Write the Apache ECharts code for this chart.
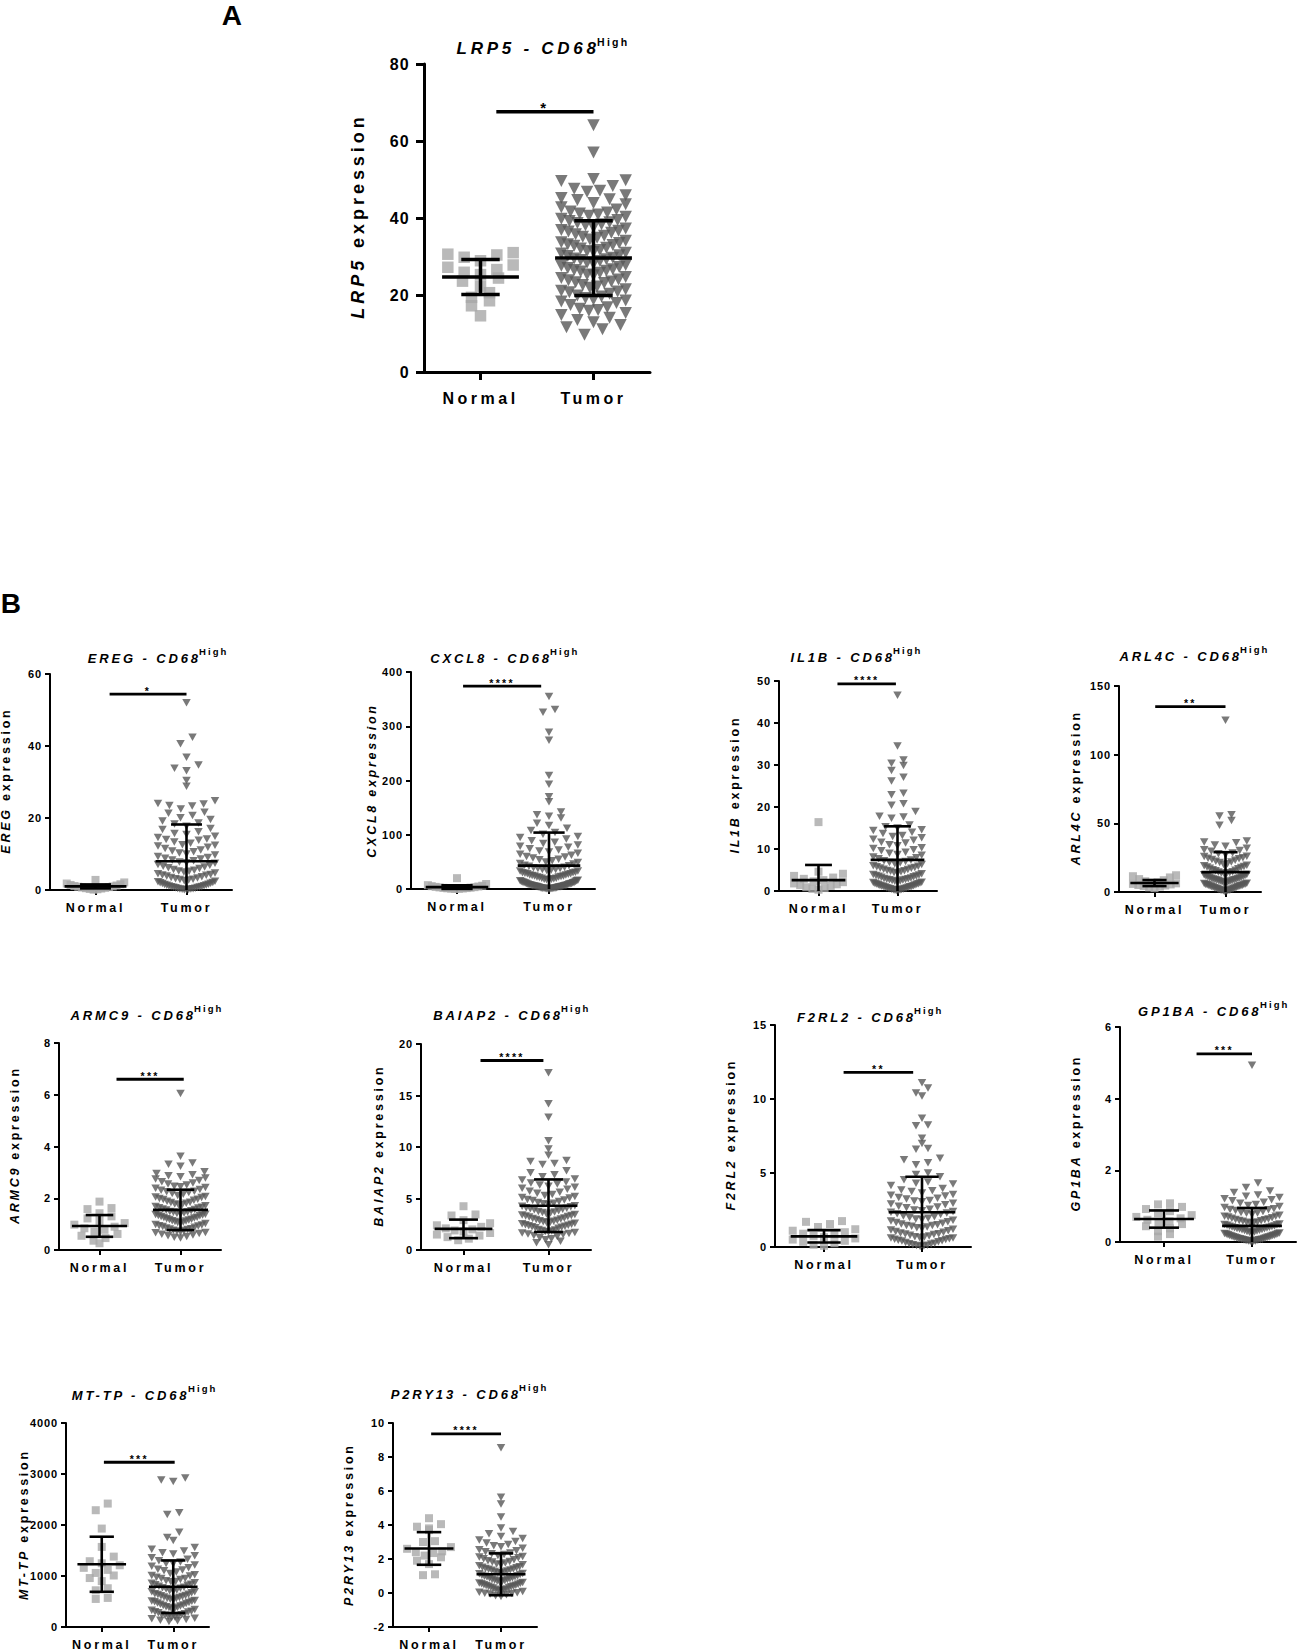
<!DOCTYPE html>
<html><head><meta charset="utf-8">
<script src="https://cdn.jsdelivr.net/npm/echarts@6/dist/echarts.min.js"></script>
<style>
html,body{margin:0;padding:0;background:#fff;}
#c{width:1299px;height:1651px;}
#c text{letter-spacing:0.22em;}
#c text[text-anchor="end"]{letter-spacing:0.08em;}
</style></head><body><div id="c"></div>
<script>
const categories = ['Normal', 'Tumor'];
const genes = ['LRP5','EREG','CXCL8','IL1B','ARL4C','ARMC9','BAIAP2','F2RL2','GP1BA','MT-TP','P2RY13'];
const stars = ['*','*','****','****','**','***','****','**','***','***','****'];
const yMin = [0,0,0,0,0,0,0,0,0,0,-2];
const yMax = [80,60,400,50,150,8,20,15,6,4000,10];
const yStep = [20,20,100,10,50,2,5,5,2,1000,2];
const sigLevel = [67.6,54.4,374,49.3,135,6.6,18.4,11.8,5.25,3230,9.36];
const normalMean = [24.7,1.0,3.5,2.6,6.5,0.93,2.05,0.72,0.64,1230,2.62];
const normalSd = [4.55,0.55,3.3,3.6,2.2,0.42,0.9,0.42,0.24,540,0.96];
const tumorMean = [29.6,8.0,43,7.4,14.5,1.55,4.3,2.35,0.45,790,1.1];
const tumorSd = [9.7,10.2,61,8.0,14.5,0.78,2.55,2.4,0.5,515,1.23];

const lrp5Normal = [31.0,30.6,30.4,29.8,28.9,27.8,27.2,26.6,25.9,25.3,24.4,23.6,22.3,20.6,19.4,18.5,17.2,14.6];
const lrp5Tumor = [64.1,57.0,50.1,49.6,49.8,48.3,47.1,47.6,46.8,45.9,45.2,44.7,44.9,43.6,43.9,42.8,42.2,
41.7,41.2,40.9,40.3,40.6,39.8,39.5,39.2,38.7,38.4,38.1,37.6,37.3,36.9,36.5,36.2,35.8,35.4,35.1,
34.9,34.4,34.1,33.7,33.5,33.0,32.8,32.3,32.1,31.7,31.4,31.0,30.8,30.3,30.1,29.7,29.5,29.1,28.8,28.4,28.1,
27.8,27.3,27.0,26.7,26.5,26.1,25.8,25.3,25.1,24.7,24.4,24.0,23.8,23.3,23.1,22.6,22.2,21.9,21.5,
21.1,20.7,20.3,19.9,19.6,19.2,18.8,18.3,17.9,17.4,16.8,16.4,15.9,15.3,14.8,14.1,13.5,12.9,12.2,11.6,11.1,9.7,
36.7,33.2,29.3,26.3,23.5,20.9,18.6,16.1,41.4,38.9,31.2,27.6];

const eregNormal = [2.8,2.1,1.8,1.6,1.4,1.25,1.1,1.0,0.9,0.8,0.7,0.6,0.5,0.4,0.3,0.2,0.1];
const eregTumor = [52.0,42.4,40.6,36.9,34.7,33.8,33.1,30.4,28.8,24.8,24.0,23.9,23.5,23.3,22.5,21.6,21.3,20.7,20.1,
19.6,19.2,18.6,18.3,17.7,17.1,16.8,16.2,15.7,15.4,14.9,14.6,14.2,13.8,13.3,13.0,12.6,12.2,11.9,11.5,
11.1,10.8,10.3,10.0,9.7,9.3,9.0,8.6,8.3,8.1,7.8,7.4,7.1,6.9,6.6,6.2,6.0,5.7,5.5,5.2,
5.0,4.7,4.5,4.3,4.1,3.9,3.7,3.5,3.3,3.1,2.9,2.8,2.6,2.4,2.3,2.1,1.9,1.8,1.6,1.5,
1.4,1.2,1.1,1.0,0.9,0.8,0.7,0.6,0.5,0.4,0.35,0.3,0.2,0.15,0.1,0.05,
14.0,12.4,10.6,8.8,7.6,6.4,5.3,4.2,3.0,2.0,1.3,0.75,0.25];

const cxcl8Normal = [20.0,9.2,7.1,6.0,5.2,4.6,3.9,3.4,2.9,2.5,2.1,1.7,1.3,1.0,0.7,0.4,0.2];
const cxcl8Tumor = [355,331,326,289,274,209,193,170,161,142,137,134,131,
121,117,112,108,104,101,97,95,92,89,86,84,81,79,77,74,72,70,68,66,64,62,60,59,57,55,54,
52,50,49,47,46,44,43,42,40,39,38,36,35,34,33,31,30,29,28,27,26,25,24,23,22,21,20,19,
18,17,16,15,14,13,12,11.5,11,10,9.5,9,8,7.5,7,6.5,6,5.5,5,4.5,4,3.5,3,2.5,2,1.6,1.2,0.8,0.5,0.3,
38,36,33,30,28,26,24,22,20,18,17,15,14,12,10,9,8,7,6,5,4.5,4,3,2.5,2,1.5,1,0.7,0.4,0.2];

const il1bNormal = [16.4,4.6,4.1,3.6,3.2,2.9,2.6,2.3,2.1,1.8,1.6,1.4,1.2,0.9,0.7,0.5,0.3];
const il1bTumor = [46.6,34.5,31.2,30.4,29.9,28.7,27.1,26.2,23.3,22.9,20.8,20.4,18.9,17.8,17.6,17.3,
15.7,15.3,15.0,14.6,14.4,14.0,13.7,13.2,13.0,12.7,12.3,12.1,11.6,11.4,11.0,10.8,
10.3,10.1,9.8,9.6,9.2,9.0,8.7,8.5,8.1,7.9,7.7,7.4,7.2,7.0,6.7,6.5,
6.3,6.0,5.9,5.6,5.5,5.2,5.1,4.8,4.7,4.4,4.3,4.1,3.9,3.8,3.6,3.4,
3.3,3.1,2.9,2.8,2.7,2.5,2.4,2.2,2.1,2.0,1.8,1.7,1.6,1.5,1.3,1.2,
1.1,1.0,0.9,0.8,0.7,0.6,0.5,0.4,0.3,0.2,0.1,6.8,5.4,4.6,3.7,3.0,2.6,1.9,1.4,0.95,0.55,0.25,0.15,
4.9,3.5,2.3,1.65,1.05,0.65,0.35,5.8,2.75,1.25];

const arl4cNormal = [12.2,11.5,10.6,9.4,8.6,7.8,7.2,6.8,6.3,5.9,5.5,5.1,4.7,4.3,3.9,3.4,2.8];
const arl4cTumor = [125,56.2,55.4,52.1,48.6,37.1,36.4,35.9,34.2,33.4,31.9,30.8,
30.2,29.6,28.4,27.9,27.2,26.1,25.8,24.9,24.6,23.7,23.1,22.3,21.9,21.4,20.6,20.1,19.4,19.1,18.5,17.8,17.3,16.9,16.2,15.8,
15.4,14.8,14.5,14.0,13.6,13.2,12.8,12.5,12.0,11.7,11.2,10.9,10.6,10.2,9.9,9.5,9.3,8.9,8.6,8.3,8.0,7.6,7.4,7.0,6.8,6.4,
6.1,5.9,5.5,5.2,4.9,4.6,4.3,4.0,3.7,3.4,3.1,2.8,2.5,2.2,1.9,1.6,1.3,1.0,0.7,0.4,
11.5,9.1,7.8,6.6,5.0,3.9,2.9,1.5,0.9,24.2,18.2,13.9,8.7,4.4,2.4,5.6,10.1,1.2];

const armc9Normal = [1.87,1.62,1.58,1.42,1.3,1.22,1.12,1.04,0.98,0.9,0.84,0.78,0.7,0.62,0.55,0.46,0.36,0.26];
const armc9Tumor = [6.05,3.62,3.36,3.31,3.24,3.02,2.96,2.91,2.87,2.83,2.78,2.74,2.69,
2.64,2.59,2.55,2.51,2.46,2.42,2.39,2.34,2.31,2.27,2.22,2.18,2.15,2.11,2.07,2.03,1.99,1.96,1.92,1.88,1.85,1.81,1.78,1.74,1.71,1.68,
1.65,1.62,1.58,1.55,1.52,1.49,1.46,1.43,1.41,1.38,1.35,1.32,1.29,1.27,1.24,1.21,1.18,1.16,1.13,1.1,1.08,1.05,1.02,0.99,0.97,0.94,
0.91,0.88,0.85,0.82,0.79,0.76,0.73,0.7,0.67,0.64,0.61,0.58,0.55,0.52,0.49,0.46,
1.84,1.63,1.47,1.33,1.19,1.06,0.93,1.76,1.57,1.4,1.26,2.05,1.12,0.81,0.68,2.44,2.25,1.95,1.37,0.75];

const baiap2Normal = [4.25,3.45,3.35,2.9,2.6,2.4,2.25,2.1,2.0,1.9,1.8,1.65,1.5,1.4,1.25,1.1,0.95];
const baiap2Tumor = [17.2,14.2,12.9,10.6,9.8,9.2,8.7,8.6,8.4,8.3,7.7,7.5,7.3,
7.1,6.9,6.8,6.6,6.5,6.3,6.2,6.0,5.9,5.7,5.6,5.5,5.3,5.2,5.1,4.9,4.8,4.7,4.6,4.5,4.4,4.3,4.2,4.1,4.0,3.9,
3.8,3.7,3.65,3.6,3.5,3.4,3.35,3.3,3.2,3.1,3.05,3.0,2.9,2.85,2.8,2.7,2.65,2.6,2.5,2.45,2.4,2.3,2.25,2.2,2.1,2.0,
1.95,1.9,1.8,1.75,1.7,1.6,1.5,1.4,1.3,1.2,1.1,1.0,0.85,0.7,0.5,
5.4,4.85,4.55,3.95,3.45,2.95,2.55,6.1,5.05,4.25,3.75,1.85,1.55,2.35,2.75,6.4,4.05,3.25,2.15,1.65];

const f2rl2Normal = [1.75,1.7,1.55,1.35,1.2,1.1,1.0,0.9,0.82,0.75,0.66,0.58,0.5,0.42,0.35,0.25,0.15,0.08];
const f2rl2Tumor = [11.1,10.75,10.4,10.2,8.7,8.25,8.2,7.35,7.0,6.65,6.6,6.0,5.9,
5.7,5.55,5.0,4.9,4.75,4.55,4.4,4.25,4.15,3.95,3.85,3.75,3.65,3.55,3.45,3.35,3.25,3.15,3.05,2.95,2.85,2.75,2.65,2.55,2.5,2.4,
2.35,2.25,2.2,2.1,2.05,1.95,1.9,1.85,1.75,1.7,1.65,1.55,1.5,1.45,1.4,1.3,1.25,1.2,1.15,1.1,1.0,0.95,0.9,0.85,0.8,0.75,
0.7,0.65,0.6,0.55,0.5,0.45,0.4,0.35,0.3,0.25,0.2,0.15,0.1,0.07,0.04,
3.8,3.1,2.7,2.3,1.8,1.35,1.05,0.68,0.42,0.22,3.5,2.9,2.0,1.6,0.88,0.52,0.12,4.3,3.3,2.45,1.45,0.6];

const gp1baNormal = [1.08,1.05,0.98,0.92,0.86,0.8,0.75,0.7,0.66,0.62,0.58,0.54,0.5,0.44,0.38,0.3,0.22,0.15];
const gp1baTumor = [4.93,1.65,1.52,1.42,1.38,1.31,1.28,1.24,1.21,1.18,1.15,1.11,1.08,
1.05,1.02,0.99,0.96,0.93,0.9,0.88,0.85,0.82,0.8,0.77,0.75,0.72,0.7,0.68,0.66,0.64,0.62,0.6,0.58,0.56,0.54,0.52,0.5,0.48,0.47,
0.45,0.43,0.42,0.4,0.38,0.37,0.35,0.34,0.32,0.31,0.29,0.28,0.26,0.25,0.23,0.22,0.21,0.19,0.18,0.17,0.15,0.14,0.13,0.12,0.1,0.09,
0.08,0.07,0.06,0.05,0.04,0.03,0.02,0.01,0.81,0.63,0.49,0.36,0.27,0.2,0.11,0.05,0.03,0.55,0.41,0.16,0.08,
0.72,0.59,0.44,0.33,0.24,0.13,0.06,0.02,0.91,0.39,0.18,0.1];

const mttpNormal = [2420,2290,1930,1570,1380,1290,1250,1210,1160,1120,1060,1010,960,900,760,720,570,550];
const mttpTumor = [2920,2880,2855,2240,2205,1860,1755,1695,1560,1525,1490,1455,1430,
1395,1360,1330,1300,1275,1245,1215,1190,1160,1130,1105,1080,1050,1025,1000,975,950,930,905,885,860,840,820,800,780,760,745,
725,705,690,670,650,635,615,600,580,565,545,530,510,495,480,460,445,430,410,395,380,360,345,330,310,295,280,260,
245,230,210,195,180,160,145,125,110,1240,1010,890,770,690,560,470,350,240,1120,830,620,520,420,
950,710,640,505,385,300,215,170,130,870,590];

const p2ry13Normal = [4.4,4.05,3.9,3.8,3.7,3.05,3.0,2.7,2.6,2.45,2.4,2.35,2.2,2.1,1.9,1.7,1.1,1.05];
const p2ry13Tumor = [8.55,5.63,5.24,4.47,3.82,3.62,3.48,3.32,3.21,3.12,3.03,2.94,2.85,
2.78,2.72,2.63,2.55,2.48,2.42,2.35,2.27,2.2,2.14,2.08,2.01,1.95,1.89,1.83,1.77,1.71,1.66,1.6,1.55,1.49,1.44,1.39,1.34,1.29,1.24,
1.19,1.14,1.09,1.04,0.99,0.94,0.89,0.84,0.79,0.74,0.69,0.64,0.59,0.54,0.49,0.44,0.39,0.34,0.29,0.24,0.19,0.14,0.09,0.04,-0.01,-0.06,
-0.11,-0.16,-0.21,1.52,1.27,1.02,0.81,0.62,0.41,0.22,1.86,1.13,0.71,0.33,0.11,2.31,0.52,0.02,
1.68,1.41,1.18,0.96,0.77,0.58,0.37,0.16,-0.03,2.12,0.88,0.46,1.35];

const normalValues = [lrp5Normal,eregNormal,cxcl8Normal,il1bNormal,arl4cNormal,armc9Normal,baiap2Normal,f2rl2Normal,gp1baNormal,mttpNormal,p2ry13Normal];
const tumorValues = [lrp5Tumor,eregTumor,cxcl8Tumor,il1bTumor,arl4cTumor,armc9Tumor,baiap2Tumor,f2rl2Tumor,gp1baTumor,mttpTumor,p2ry13Tumor];

// layout: [gridLeft, gridTop, gridWidth, gridHeight, yLabelX, titleJunctionX, titleY]
const layout = [
  [424, 64, 226, 308, 358, 597, 48],
  [50, 674, 182, 216, 6, 199, 658],
  [411, 672, 184, 217, 372, 550, 658],
  [779, 681, 158, 210, 735, 893, 657],
  [1119, 686, 142, 206, 1076, 1240, 656],
  [59, 1043, 162, 207, 15, 194, 1015],
  [421, 1044, 170, 206, 379, 561, 1015],
  [775, 1025, 196, 222, 731, 914, 1017],
  [1120, 1027, 176, 215, 1076, 1260, 1011],
  [66, 1423, 143, 206, 24, 188, 1395],
  [393, 1423, 144, 206, 349, 519, 1394]
];
const sigSpan = [[0.14,1.0],[0.155,1.0],[0.066,0.915],[0.24,0.98],[0.01,1.0],[0.21,1.04],[0.2,0.94],[0.2,0.91],[0.37,1.0],[0.03,1.02],[0.03,1.0]];
const labelAllItalic = [false,false,true,false,false,false,false,false,false,false,false];

const FONT = "'Liberation Sans', Arial, Helvetica, sans-serif";
const SA = {tick:16, cat:16, title:17, sup:10.5, supOff:6, ylab:18, star:15, starOff:4, axisW:3, tickLen:8, bar:3.5, sig:3.5,
  tri:[12.5,12], sq:11.5, rowH:12, gapPx:18, half:0.34, catMargin:18, tickMargin:14};
const SB = {tick:11, cat:12.5, title:13, sup:9.5, supOff:7, ylab:12.5, star:10.5, starOff:3.5, axisW:2, tickLen:5, bar:2.6, sig:2.8,
  tri:[8.5,7.5], sq:8, rowH:9, gapPx:12, half:0.36, catMargin:11, tickMargin:8};
const LS = 0.22;

const mctx = document.createElement('canvas').getContext('2d');
function natW(t, font) { mctx.font = font; return mctx.measureText(t).width; }
function spacedW(t, font, px) { return natW(t, font) + (t.length - 1) * LS * px; }

// beeswarm-like row layout: values in the same row are spread sideways, lowest in the centre
function swarm(values, cat, lo, hi, plotH, unitPx, symW, S) {
  const pxPerVal = plotH / (hi - lo);
  const bins = new Map();
  values.forEach(v => {
    const b = Math.floor((v - lo) * pxPerVal / S.rowH);
    if (!bins.has(b)) bins.set(b, []);
    bins.get(b).push(v);
  });
  const out = [];
  const maxOff = S.half * unitPx - symW / 2;
  bins.forEach(arr => {
    arr.sort((a, b) => a - b);
    const n = arr.length;
    let sp = S.gapPx;
    if (n > 1 && (n - 1) / 2 * sp > maxOff) sp = 2 * maxOff / (n - 1);
    const slots = [];
    for (let k = 0; k < n; k++) slots.push((k - (n - 1) / 2) * sp);
    slots.sort((a, b) => Math.abs(a) - Math.abs(b) || a - b);
    arr.forEach((v, k) => out.push([cat + slots[k] / unitPx, v]));
  });
  return out;
}

function txt(x, y, text, font, align, rot) {
  const o = {type: 'text', x, y, silent: true,
    style: {text, font, fill: '#000', align, verticalAlign: 'middle', textAlign: align, textVerticalAlign: 'middle'}};
  if (rot) o.rotation = rot;
  return o;
}

const grid = [], xAxis = [], yAxis = [], series = [], graphic = [];
genes.forEach((g, i) => {
  const [left, top, width, height, ylx, tjx, ty] = layout[i];
  const S = i === 0 ? SA : SB;
  const lo = yMin[i];
  grid.push({left, top, width, height});
  const lineSt = {color: '#000', width: S.axisW};
  xAxis.push({
    gridIndex: i, type: 'value', min: -0.5, max: 1.5,
    axisLine: {show: true, onZero: false, lineStyle: lineSt},
    axisTick: {show: true, customValues: [0, 1], length: S.tickLen, lineStyle: lineSt},
    axisLabel: {show: true, customValues: [0, 1], formatter: v => categories[Math.round(v)] || '',
      color: '#000', fontSize: S.cat, fontWeight: 'bold', fontFamily: FONT, margin: S.catMargin},
    splitLine: {show: false}
  });
  yAxis.push({
    gridIndex: i, type: 'value', min: lo, max: yMax[i], interval: yStep[i],
    axisLine: {show: true, onZero: false, lineStyle: lineSt},
    axisTick: {show: true, length: S.tickLen, lineStyle: lineSt},
    axisLabel: {color: '#000', fontSize: S.tick, fontWeight: 'bold', fontFamily: FONT, margin: S.tickMargin, formatter: v => String(v)},
    splitLine: {show: false}
  });
  const unitPx = width / 2;
  series.push({type: 'scatter', xAxisIndex: i, yAxisIndex: i, silent: true, z: 2,
    data: swarm(normalValues[i], 0, lo, yMax[i], height, unitPx, S.sq, S),
    symbol: 'rect', symbolSize: S.sq, itemStyle: {color: '#a7a7a7'}});
  series.push({type: 'scatter', xAxisIndex: i, yAxisIndex: i, silent: true, z: 3,
    data: swarm(tumorValues[i], 1, lo, yMax[i], height, unitPx, S.tri[0], S),
    symbol: 'triangle', symbolRotate: 180, symbolSize: S.tri, itemStyle: {color: '#585858'}});
  series.push({type: 'custom', xAxisIndex: i, yAxisIndex: i, silent: true, z: 5,
    encode: {x: 0, y: 1},
    data: [[0, normalMean[i], normalSd[i]], [1, tumorMean[i], tumorSd[i]]],
    renderItem: (params, api) => {
      const x = api.value(0), m = api.value(1), s = api.value(2);
      const low = Math.max(m - s, lo);
      const u = api.size([1, 0])[0];
      const pm = api.coord([x, m]), ph = api.coord([x, m + s]), pl = api.coord([x, low]);
      const st = {stroke: '#000', lineWidth: S.bar};
      const ch = [
        {type: 'line', shape: {x1: pm[0] - 0.34 * u, y1: pm[1], x2: pm[0] + 0.34 * u, y2: pm[1]}, style: st},
        {type: 'line', shape: {x1: pm[0], y1: pl[1], x2: pm[0], y2: ph[1]}, style: st},
        {type: 'line', shape: {x1: pm[0] - 0.17 * u, y1: ph[1], x2: pm[0] + 0.17 * u, y2: ph[1]}, style: st}
      ];
      if (m - s > lo) ch.push({type: 'line', shape: {x1: pm[0] - 0.17 * u, y1: pl[1], x2: pm[0] + 0.17 * u, y2: pl[1]}, style: st});
      return {type: 'group', children: ch};
    }
  });
  series.push({type: 'custom', xAxisIndex: i, yAxisIndex: i, silent: true, z: 5,
    encode: {x: [0, 1], y: 2},
    data: [[sigSpan[i][0], sigSpan[i][1], sigLevel[i]]],
    renderItem: (params, api) => {
      const p1 = api.coord([api.value(0), api.value(2)]);
      const p2 = api.coord([api.value(1), api.value(2)]);
      return {type: 'group', children: [
        {type: 'line', shape: {x1: p1[0], y1: p1[1], x2: p2[0], y2: p2[1]}, style: {stroke: '#000', lineWidth: S.sig}},
        {type: 'text', x: (p1[0] + p2[0]) / 2, y: p1[1] - S.starOff,
          style: {text: stars[i], font: `bold ${S.star}px ${FONT}`, fill: '#000', align: 'center', verticalAlign: 'middle', textAlign: 'center', textVerticalAlign: 'middle'}}
      ]};
    }
  });
  // title: gene - CD68 with superscript High
  const fT = `italic bold ${S.title}px ${FONT}`;
  const mainText = g + ' - CD68';
  graphic.push(txt(tjx - spacedW(mainText, fT, S.title) - 1, ty, mainText, fT, 'left'));
  graphic.push(txt(tjx, ty - S.supOff, 'High', `bold ${S.sup}px ${FONT}`, 'left'));
  // y axis label, reading bottom to top
  const cy = top + height / 2;
  const fIt = `italic bold ${S.ylab}px ${FONT}`, fBd = `bold ${S.ylab}px ${FONT}`;
  if (labelAllItalic[i]) {
    graphic.push(txt(ylx, cy, g + ' expression', fIt, 'center', Math.PI / 2));
  } else {
    const w1 = spacedW(g, fIt, S.ylab), gap = natW(' ', fBd) + 2 * LS * S.ylab, w2 = spacedW('expression', fBd, S.ylab);
    const total = w1 + gap + w2;
    const y0 = cy + total / 2;
    graphic.push(txt(ylx, y0, g, fIt, 'left', Math.PI / 2));
    graphic.push(txt(ylx, y0 - w1 - gap, 'expression', fBd, 'left', Math.PI / 2));
  }
});
graphic.push(txt(235, 15, 'A', `bold 28px ${FONT}`, 'center'));
graphic.push(txt(14, 603, 'B', `bold 28px ${FONT}`, 'center'));

const chart = echarts.init(document.getElementById('c'), null, {renderer: 'svg', width: 1299, height: 1651});
chart.setOption({animation: false, backgroundColor: '#fff', grid, xAxis, yAxis, series, graphic});
</script></body></html>
